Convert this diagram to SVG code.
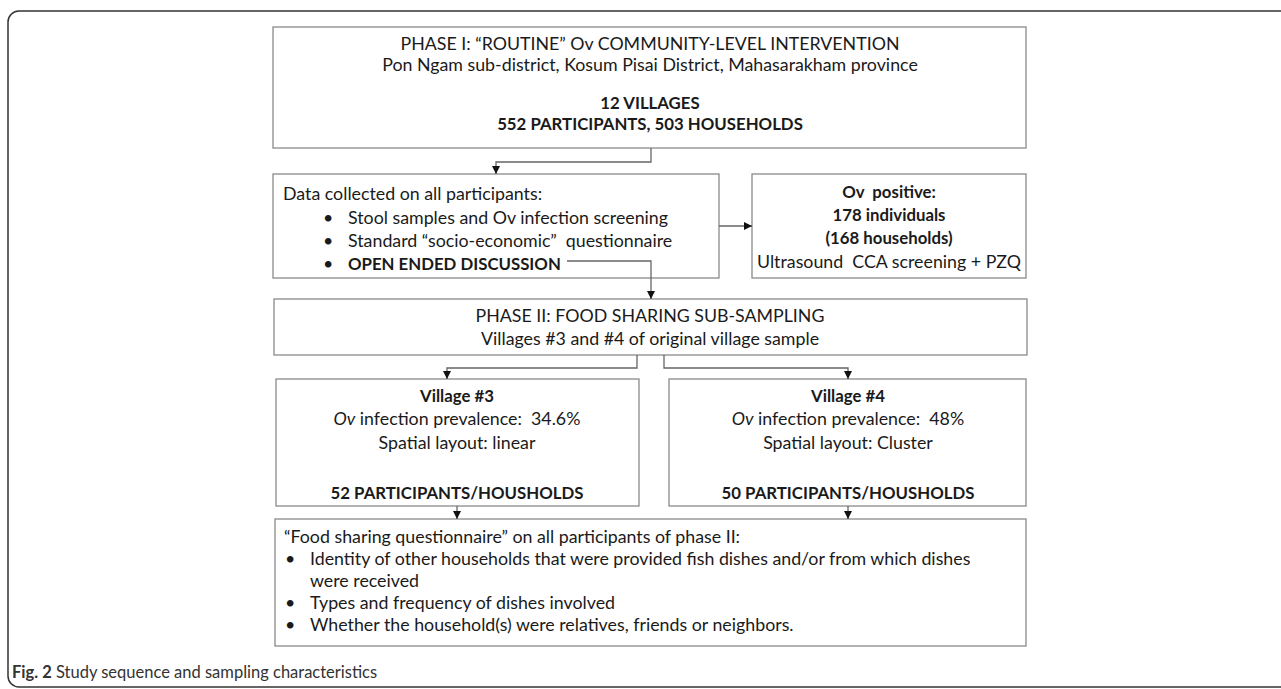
<svg xmlns="http://www.w3.org/2000/svg" width="1281" height="689" viewBox="0 0 1281 689">
<style>
.box{fill:#fff;stroke:#8a8a8a;stroke-width:1.3}
.t{font-family:Lato,"Liberation Sans",sans-serif;font-size:17.8px;fill:#1a1a1a;white-space:pre}
.b{font-weight:bold;font-size:16.8px}
.i{font-style:italic}
.c{text-anchor:middle}
.conn{fill:none;stroke:#666;stroke-width:1.3}
.cap{font-family:Lato,"Liberation Sans",sans-serif;font-size:16.5px;fill:#333}
</style>
<defs>
<marker id="ah" markerUnits="userSpaceOnUse" markerWidth="8" markerHeight="8" refX="8" refY="4" orient="auto">
<path d="M0,0 L8,4 L0,8 z" fill="#111"/>
</marker>
</defs>
<path d="M1290,11 H19 A11,11 0 0 0 8,22 V676 A11,11 0 0 0 19,687 H1290" fill="none" stroke="#333" stroke-width="1.5"/>
<g id="phase1">
<rect class="box" x="273" y="27" width="753" height="121"/>
<text class="t c" x="650" y="50">PHASE I: “ROUTINE” Ov COMMUNITY-LEVEL INTERVENTION</text>
<text class="t c" x="650" y="71">Pon Ngam sub-district, Kosum Pisai District, Mahasarakham province</text>
<text class="t c b" x="650" y="109">12 VILLAGES</text>
<text class="t c b" x="650" y="130">552 PARTICIPANTS, 503 HOUSEHOLDS</text>
</g>
<g id="data">
<rect class="box" x="273" y="174" width="446" height="104"/>
<text class="t" x="283" y="200">Data collected on all participants:</text>
<text class="t" x="323" y="224">•</text><text class="t" x="348" y="224">Stool samples and Ov infection screening</text>
<text class="t" x="323" y="247">•</text><text class="t" x="348" y="247">Standard “socio-economic”  questionnaire</text>
<text class="t" x="323" y="270">•</text><text class="t b" x="348" y="270">OPEN ENDED DISCUSSION</text>
</g>
<g id="ovpos">
<rect class="box" x="752" y="174" width="274" height="104"/>
<text class="t c b" x="889" y="198">Ov  positive:</text>
<text class="t c b" x="889" y="221">178 individuals</text>
<text class="t c b" x="889" y="244">(168 households)</text>
<text class="t c" x="889" y="268">Ultrasound  CCA screening + PZQ</text>
</g>
<g id="phase2">
<rect class="box" x="274" y="299" width="753" height="56"/>
<text class="t c" x="650" y="322">PHASE II: FOOD SHARING SUB-SAMPLING</text>
<text class="t c" x="650" y="345">Villages #3 and #4 of original village sample</text>
</g>
<g id="village3">
<rect class="box" x="276" y="379" width="363" height="127"/>
<text class="t c b" x="457" y="402">Village #3</text>
<text class="t c" x="457" y="425"><tspan class="i">Ov</tspan> infection prevalence:  34.6%</text>
<text class="t c" x="457" y="449">Spatial layout: linear</text>
<text class="t c b" x="457" y="499">52 PARTICIPANTS/HOUSHOLDS</text>
</g>
<g id="village4">
<rect class="box" x="669" y="379" width="357" height="127"/>
<text class="t c b" x="848" y="402">Village #4</text>
<text class="t c" x="848" y="425"><tspan class="i">Ov</tspan> infection prevalence:  48%</text>
<text class="t c" x="848" y="449">Spatial layout: Cluster</text>
<text class="t c b" x="848" y="499">50 PARTICIPANTS/HOUSHOLDS</text>
</g>
<g id="questionnaire">
<rect class="box" x="275" y="519" width="751" height="127"/>
<text class="t" x="284" y="543">“Food sharing questionnaire” on all participants of phase II:</text>
<text class="t" x="285" y="565">•</text><text class="t" x="310" y="565">Identity of other households that were provided fish dishes and/or from which dishes</text>
<text class="t" x="310" y="587">were received</text>
<text class="t" x="285" y="609">•</text><text class="t" x="310" y="609">Types and frequency of dishes involved</text>
<text class="t" x="285" y="631">•</text><text class="t" x="310" y="631">Whether the household(s) were relatives, friends or neighbors.</text>
</g>
<g id="connectors">
<path class="conn" d="M651,148 V162 H496 V174" marker-end="url(#ah)"/>
<path class="conn" d="M719,226 H752" marker-end="url(#ah)"/>
<path class="conn" d="M567,261 H651 V299" marker-end="url(#ah)"/>
<path class="conn" d="M637,355 V368 H447 V379" marker-end="url(#ah)"/>
<path class="conn" d="M664,355 V368 H848 V379" marker-end="url(#ah)"/>
<path class="conn" d="M457,506 V519" marker-end="url(#ah)"/>
<path class="conn" d="M848,506 V519" marker-end="url(#ah)"/>
</g>
<text class="cap" x="12" y="678"><tspan font-weight="bold">Fig. 2</tspan> Study sequence and sampling characteristics</text>
</svg>
